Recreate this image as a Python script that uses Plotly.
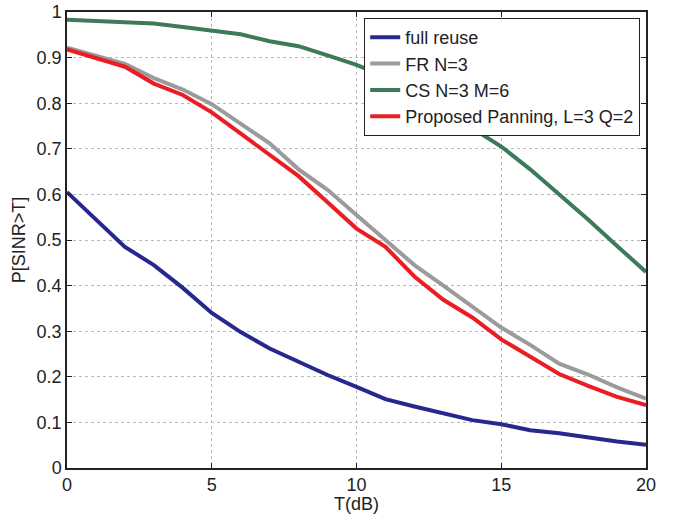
import plotly.graph_objects as go

T_dB = list(range(0, 21))

full_reuse = [0.605, 0.545, 0.485, 0.445, 0.395, 0.340, 0.298, 0.262, 0.232, 0.204,
              0.178, 0.151, 0.135, 0.120, 0.105, 0.096, 0.083, 0.076, 0.066, 0.058, 0.051]
fr_n3 = [0.922, 0.905, 0.886, 0.855, 0.830, 0.798, 0.755, 0.712, 0.655, 0.610,
         0.555, 0.500, 0.445, 0.400, 0.355, 0.308, 0.270, 0.229, 0.205, 0.177, 0.152]
cs_n3_m6 = [0.983, 0.980, 0.977, 0.975, 0.967, 0.958, 0.951, 0.936, 0.925, 0.905,
            0.884, 0.858, 0.822, 0.787, 0.745, 0.705, 0.655, 0.600, 0.545, 0.487, 0.430]
proposed = [0.918, 0.900, 0.880, 0.843, 0.818, 0.780, 0.733, 0.687, 0.640, 0.583,
            0.525, 0.485, 0.420, 0.369, 0.330, 0.282, 0.245, 0.206, 0.180, 0.156, 0.138]

series = [
    ("full reuse", full_reuse, "#27288f"),
    ("FR N=3", fr_n3, "#9b9b9b"),
    ("CS N=3 M=6", cs_n3_m6, "#3d7a5a"),
    ("Proposed Panning, L=3 Q=2", proposed, "#ea1c24"),
]

fig = go.Figure()
for name, vals, col in series:
    fig.add_trace(go.Scatter(x=T_dB, y=vals, mode="lines", name=name,
                             line=dict(color=col, width=4)))

font = dict(family="Liberation Sans, Arial, sans-serif", size=18, color="#222222")

axis_common = dict(
    showgrid=True, gridcolor="#b8b8b8", griddash="dot", gridwidth=1,
    showline=True, linecolor="#222222", linewidth=1.5, mirror="ticks",
    ticks="inside", ticklen=5, tickcolor="#222222", zeroline=False,
    tickfont=font, automargin=False, ticklabeloverflow="allow",
)

fig.update_layout(
    width=676, height=514,
    margin=dict(l=67, r=30, t=12, b=46, autoexpand=False),
    paper_bgcolor="white", plot_bgcolor="white",
    font=font,
    xaxis=dict(range=[0, 20], dtick=5, tick0=0,
               title=dict(text="T(dB)", font=font, standoff=0), **axis_common),
    yaxis=dict(range=[0, 1], dtick=0.1, tick0=0,
               title=dict(text="P[SINR>T]", font=font, standoff=6), **axis_common),
    legend=dict(x=0.99, y=0.987, xanchor="right", yanchor="top",
                bgcolor="white", bordercolor="#222222", borderwidth=1,
                font=font, tracegroupgap=0, itemwidth=30),
    showlegend=True,
)

fig.write_html("out.html",
               config={"displayModeBar": False},
               post_script="document.body.style.margin='0';document.body.style.overflow='hidden';")
